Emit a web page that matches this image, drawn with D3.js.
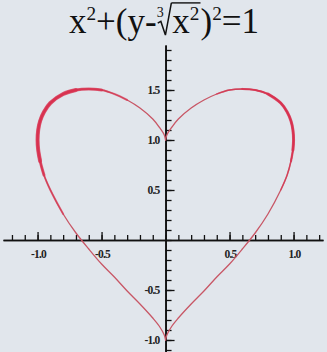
<!DOCTYPE html>
<html>
<head>
<meta charset="utf-8">
<script src="https://cdn.jsdelivr.net/npm/d3@7"></script>
<style>
  html, body { margin: 0; padding: 0; background: #e1e6ec; }
  svg { display: block; }
</style>
</head>
<body>
<svg id="chart" width="327" height="352"></svg>
<script>
const heartRight = [
  [0, 1.0], [0.01, 1.05], [0.05, 1.13], [0.1, 1.21], [0.2, 1.32], [0.3, 1.40],
  [0.4, 1.46], [0.5, 1.50], [0.6, 1.51], [0.7, 1.50], [0.8, 1.46], [0.9, 1.37],
  [0.95, 1.28], [0.98, 1.19], [0.995, 1.10], [1.0, 1.0], [0.995, 0.90],
  [0.98, 0.79], [0.95, 0.65], [0.9, 0.50], [0.8, 0.26], [0.7, 0.07],
  [0.6, -0.09], [0.5, -0.24], [0.4, -0.37], [0.3, -0.51], [0.2, -0.64],
  [0.1, -0.78], [0.05, -0.86], [0.01, -0.95], [0, -1.0]
]
// left half: top cusp -> left lobe -> bottom tip
const heartLeft = [
  [0, 1.0], [-0.01, 1.05], [-0.05, 1.13], [-0.1, 1.21], [-0.2, 1.32], [-0.3, 1.40],
  [-0.4, 1.46], [-0.5, 1.50], [-0.6, 1.51], [-0.7, 1.50], [-0.8, 1.46], [-0.9, 1.37],
  [-0.95, 1.28], [-0.98, 1.19], [-0.995, 1.10], [-1.0, 1.0], [-0.995, 0.90],
  [-0.98, 0.79], [-0.95, 0.65], [-0.9, 0.50], [-0.8, 0.26], [-0.7, 0.07],
  [-0.6, -0.09], [-0.5, -0.24], [-0.4, -0.37], [-0.3, -0.51], [-0.2, -0.64],
  [-0.1, -0.78], [-0.05, -0.86], [-0.01, -0.95], [0, -1.0]
]
const xLabelValues = [-1.0, -0.5, 0.5, 1.0]
const yLabelValues = [-1.0, -0.5, 0.5, 1.0, 1.5]
const xMajorTicks = [-1.0, -0.5, 0.5, 1.0]
const yMajorTicks = [-1.0, -0.5, 0.5, 1.0, 1.5]

const W = 327
const H = 352
const svg = d3.select('#chart')

svg.append('rect').attr('width', W).attr('height', H).attr('fill', '#e1e6ec')

const x = d3.scaleLinear().domain([-1.27, 1.23]).range([3, 323])
const y = d3.scaleLinear().domain([-1.12, 1.95]).range([352, 45])

// ---- axes
const axisG = svg.append('g')

function styleAxis (g) {
  g.select('.domain').attr('stroke', '#111').attr('stroke-width', 1.6)
  g.selectAll('.tick line').attr('stroke', '#111').attr('stroke-width', 1.3)
  g.selectAll('.tick text').remove()
}

const xMinor = d3.axisTop(x).ticks(25).tickSize(5).tickSizeOuter(0).tickFormat('')
const xMajor = d3.axisTop(x).tickValues(xMajorTicks).tickSize(8).tickSizeOuter(0).tickFormat('')
axisG.append('g').attr('transform', `translate(0,${y(0)})`).call(xMinor).call(styleAxis)
axisG.append('g').attr('transform', `translate(0,${y(0)})`).call(xMajor).call(styleAxis)

const yMinor = d3.axisRight(y).ticks(30).tickSize(6).tickSizeOuter(0).tickFormat('')
const yMajor = d3.axisRight(y).tickValues(yMajorTicks).tickSize(9).tickSizeOuter(0).tickFormat('')
axisG.append('g').attr('transform', `translate(${x(0)},0)`).call(yMinor).call(styleAxis)
axisG.append('g').attr('transform', `translate(${x(0)},0)`).call(yMajor).call(styleAxis)

const labelFont = (sel) => sel
  .attr('font-family', 'Liberation Serif, serif')
  .attr('font-weight', 'bold')
  .attr('font-size', 11.5)
  .attr('letter-spacing', -0.8)
  .attr('fill', '#222')

axisG.append('g').selectAll('text')
  .data(xLabelValues)
  .join('text')
  .attr('x', d => x(d) + 1)
  .attr('y', y(0) + 18)
  .attr('text-anchor', 'middle')
  .text(d => d.toFixed(1))
  .call(labelFont)

axisG.append('g').selectAll('text')
  .data(yLabelValues)
  .join('text')
  .attr('x', x(0) - 6)
  .attr('y', d => y(d) + 4)
  .attr('text-anchor', 'end')
  .text(d => d.toFixed(1))
  .call(labelFont)

// ---- heart
const line = d3.line()
  .x(d => x(d[0]))
  .y(d => y(d[1]))
  .curve(d3.curveCatmullRom.alpha(0.5))

const heartG = svg.append('g').attr('fill', 'none').attr('stroke-linecap', 'round')
;[heartLeft, heartRight].forEach(pts => {
  heartG.append('path').attr('d', line(pts))
    .attr('stroke', '#c85766').attr('stroke-width', 1.3)
})
// heavier, tapering stroke on the outer lobes
const lobeLayers = [
  { left: [5, 21], right: [6, 20], w: 2.0, o: 0.6 },
  { left: [7, 19], right: [8, 18], w: 3.0, o: 0.7 },
  { left: [9, 18], right: [10, 17], w: 4.0, o: 0.75 }
]
lobeLayers.forEach(l => {
  heartG.append('path').attr('d', line(heartLeft.slice(l.left[0], l.left[1])))
    .attr('stroke', '#d8304f').attr('stroke-width', l.w).attr('stroke-opacity', l.o)
  heartG.append('path').attr('d', line(heartRight.slice(l.right[0], l.right[1])))
    .attr('stroke', '#d8304f').attr('stroke-width', l.w * 0.75).attr('stroke-opacity', l.o)
})

// ---- title: x²+(y-∛x²)²=1
const titleG = svg.append('g')
  .attr('font-family', 'Liberation Serif, serif')
  .attr('fill', '#111')
const fs = 35
const baseY = 33
let cx = 0

function put (txt, size, dy) {
  const t = titleG.append('text')
    .attr('x', cx).attr('y', baseY + dy)
    .attr('font-size', size).text(txt)
  cx += t.node().getComputedTextLength()
}

put('x', fs, 0)
put('2', fs * 0.55, -fs * 0.38)
put('+(y-', fs, 0)
const rx = cx
titleG.append('text')
  .attr('x', rx).attr('y', baseY - fs * 0.45)
  .attr('font-size', fs * 0.4).text('3')
const radTop = baseY - fs * 0.86
const radEnd = rx + fs * 0.42
titleG.append('path')
  .attr('d', `M${rx + fs * 0.03},${baseY - fs * 0.28} L${rx + fs * 0.12},${baseY - fs * 0.33} L${rx + fs * 0.25},${baseY + fs * 0.06} L${radEnd},${radTop}`)
  .attr('fill', 'none').attr('stroke', '#111').attr('stroke-width', 1.5)
cx = radEnd + 1
put('x', fs, 0)
put('2', fs * 0.55, -fs * 0.38)
titleG.append('line')
  .attr('x1', radEnd).attr('x2', cx + 1)
  .attr('y1', radTop).attr('y2', radTop)
  .attr('stroke', '#111').attr('stroke-width', 1.4)
cx += 1
put(')', fs, 0)
put('2', fs * 0.55, -fs * 0.38)
put('=1', fs, 0)

titleG.attr('transform', `translate(${164 - cx / 2},0)`)
</script>
</body>
</html>
